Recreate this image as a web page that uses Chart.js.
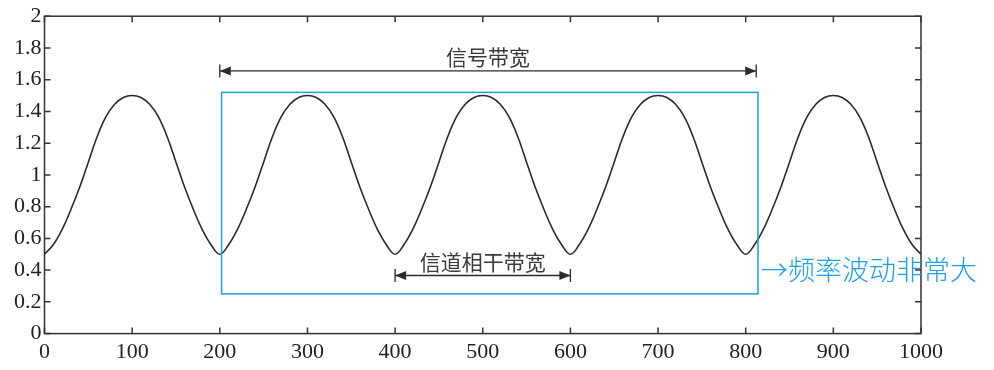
<!DOCTYPE html>
<html>
<head>
<meta charset="utf-8">
<script src="https://cdn.jsdelivr.net/npm/chart.js@4/dist/chart.umd.min.js"></script>
<style>
  html, body { margin: 0; padding: 0; background: #fff; }
</style>
</head>
<body>
<canvas id="chart" width="994" height="370"></canvas>
<script>
// --- datos ---
const xValues = [
  0, 10, 20, 30, 40, 50, 60, 70, 80, 90,
  100, 110, 120, 130, 140, 150, 160, 170, 180, 190,
  200, 210, 220, 230, 240, 250, 260, 270, 280, 290,
  300, 310, 320, 330, 340, 350, 360, 370, 380, 390,
  400, 410, 420, 430, 440, 450, 460, 470, 480, 490,
  500, 510, 520, 530, 540, 550, 560, 570, 580, 590,
  600, 610, 620, 630, 640, 650, 660, 670, 680, 690,
  700, 710, 720, 730, 740, 750, 760, 770, 780, 790,
  800, 810, 820, 830, 840, 850, 860, 870, 880, 890,
  900, 910, 920, 930, 940, 950, 960, 970, 980, 990,
  1000
];
const yValues = [
  0.50, 0.56, 0.655, 0.78, 0.92, 1.08, 1.24, 1.365, 1.445, 1.488,
  1.50, 1.488, 1.445, 1.365, 1.24, 1.08, 0.92, 0.78, 0.655, 0.56,
  0.50, 0.56, 0.655, 0.78, 0.92, 1.08, 1.24, 1.365, 1.445, 1.488,
  1.50, 1.488, 1.445, 1.365, 1.24, 1.08, 0.92, 0.78, 0.655, 0.56,
  0.50, 0.56, 0.655, 0.78, 0.92, 1.08, 1.24, 1.365, 1.445, 1.488,
  1.50, 1.488, 1.445, 1.365, 1.24, 1.08, 0.92, 0.78, 0.655, 0.56,
  0.50, 0.56, 0.655, 0.78, 0.92, 1.08, 1.24, 1.365, 1.445, 1.488,
  1.50, 1.488, 1.445, 1.365, 1.24, 1.08, 0.92, 0.78, 0.655, 0.56,
  0.50, 0.56, 0.655, 0.78, 0.92, 1.08, 1.24, 1.365, 1.445, 1.488,
  1.50, 1.488, 1.445, 1.365, 1.24, 1.08, 0.92, 0.78, 0.655, 0.56,
  0.50
];
const xTicks = [0, 100, 200, 300, 400, 500, 600, 700, 800, 900, 1000];
const xTickLabels = ['0', '100', '200', '300', '400', '500', '600', '700', '800', '900', '1000'];
const yTicks = [0, 0.2, 0.4, 0.6, 0.8, 1, 1.2, 1.4, 1.6, 1.8, 2];
const yTickLabels = ['0', '0.2', '0.4', '0.6', '0.8', '1', '1.2', '1.4', '1.6', '1.8', '2'];

// anotaciones (en unidades de datos)
const signalBand = [200, 812];
const signalY = 1.655;
const signalLabel = '信号带宽';
const signalLabelY = 1.743;
const coherenceBand = [400, 600];
const coherenceY = 0.366;
const coherenceLabel = '信道相干带宽';
const coherenceLabelY = 0.451;
const boxX = [202, 814];
const boxY = [0.25, 1.52];
const noteText = '→频率波动非常大';
const noteY = 0.40;

const BLUE = '#1c9fe4';
const INK = '#2b2b2b';

// --- plugin: marco con ticks hacia dentro + anotaciones ---
const drawDim = (ctx, x1, x2, y) => {
    const bar = 6.5, head = 11, half = 4.5;
    ctx.beginPath();
    ctx.moveTo(x1, y); ctx.lineTo(x2, y);
    ctx.moveTo(x1, y - bar); ctx.lineTo(x1, y + bar);
    ctx.moveTo(x2, y - bar); ctx.lineTo(x2, y + bar);
    ctx.stroke();
    ctx.beginPath();
    ctx.moveTo(x1, y); ctx.lineTo(x1 + head, y - half); ctx.lineTo(x1 + head, y + half); ctx.closePath();
    ctx.moveTo(x2, y); ctx.lineTo(x2 - head, y - half); ctx.lineTo(x2 - head, y + half); ctx.closePath();
    ctx.fill();
};

const overlay = {
    id: 'overlay',
    afterDraw(chart) {
        const { ctx, chartArea: a, scales: { x, y } } = chart;
        ctx.save();

        // marco y ticks
        ctx.strokeStyle = '#333';
        ctx.lineWidth = 1.5;
        ctx.strokeRect(a.left, a.top, a.right - a.left, a.bottom - a.top);
        ctx.beginPath();
        xTicks.forEach(v => {
            const px = x.getPixelForValue(v);
            ctx.moveTo(px, a.bottom); ctx.lineTo(px, a.bottom - 6);
            ctx.moveTo(px, a.top); ctx.lineTo(px, a.top + 6);
        });
        yTicks.forEach(v => {
            const py = y.getPixelForValue(v);
            ctx.moveTo(a.left, py); ctx.lineTo(a.left + 6, py);
            ctx.moveTo(a.right, py); ctx.lineTo(a.right - 6, py);
        });
        ctx.stroke();

        // caja azul
        ctx.strokeStyle = BLUE;
        ctx.lineWidth = 1.5;
        const bx1 = x.getPixelForValue(boxX[0]), bx2 = x.getPixelForValue(boxX[1]);
        const by1 = y.getPixelForValue(boxY[1]), by2 = y.getPixelForValue(boxY[0]);
        ctx.strokeRect(bx1, by1, bx2 - bx1, by2 - by1);

        // flechas de cota
        ctx.strokeStyle = INK;
        ctx.fillStyle = INK;
        ctx.lineWidth = 1.3;
        drawDim(ctx, x.getPixelForValue(signalBand[0]), x.getPixelForValue(signalBand[1]), y.getPixelForValue(signalY));
        drawDim(ctx, x.getPixelForValue(coherenceBand[0]), x.getPixelForValue(coherenceBand[1]), y.getPixelForValue(coherenceY));

        // textos
        ctx.font = '21px "Noto Sans CJK SC"';
        ctx.fillStyle = '#3a3a3a';
        ctx.textAlign = 'center';
        ctx.textBaseline = 'middle';
        ctx.fillText(signalLabel, (x.getPixelForValue(signalBand[0]) + x.getPixelForValue(signalBand[1])) / 2, y.getPixelForValue(signalLabelY));
        ctx.fillText(coherenceLabel, (x.getPixelForValue(coherenceBand[0]) + x.getPixelForValue(coherenceBand[1])) / 2, y.getPixelForValue(coherenceLabelY));

        // nota manuscrita
        ctx.font = '300 27px "Noto Sans CJK SC"';
        ctx.fillStyle = BLUE;
        ctx.textAlign = 'left';
        ctx.fillText(noteText, bx2 + 3, y.getPixelForValue(noteY));

        ctx.restore();
    }
};

const tickFont = { family: '"Liberation Serif", "DejaVu Serif", serif', size: 22 };

new Chart(document.getElementById('chart'), {
    type: 'line',
    data: {
        datasets: [{
            data: xValues.map((v, i) => ({ x: v, y: yValues[i] })),
            borderColor: INK,
            borderWidth: 1.6,
            pointRadius: 0,
            fill: false,
            tension: 0.4
        }]
    },
    options: {
        responsive: false,
        animation: false,
        events: [],
        layout: { padding: { left: 11, right: 73, top: 16, bottom: 0 } },
        plugins: { legend: { display: false }, tooltip: { enabled: false } },
        scales: {
            x: {
                type: 'linear',
                min: 0, max: 1000,
                grid: { display: false, drawTicks: false, tickLength: 0 },
                border: { display: false },
                afterBuildTicks: (s) => { s.ticks = xTicks.map(v => ({ value: v })); },
                ticks: {
                    font: tickFont, color: '#222', padding: 5, maxRotation: 0, autoSkip: false,
                    callback: (v) => xTickLabels[xTicks.indexOf(v)] ?? String(v)
                }
            },
            y: {
                min: 0, max: 2,
                grid: { display: false, drawTicks: false, tickLength: 0 },
                border: { display: false },
                afterBuildTicks: (s) => { s.ticks = yTicks.map(v => ({ value: v })); },
                ticks: {
                    font: tickFont, color: '#222', padding: 3, autoSkip: false,
                    callback: (v) => yTickLabels[yTicks.indexOf(v)] ?? v
                }
            }
        }
    },
    plugins: [overlay]
});
</script>
</body>
</html>
